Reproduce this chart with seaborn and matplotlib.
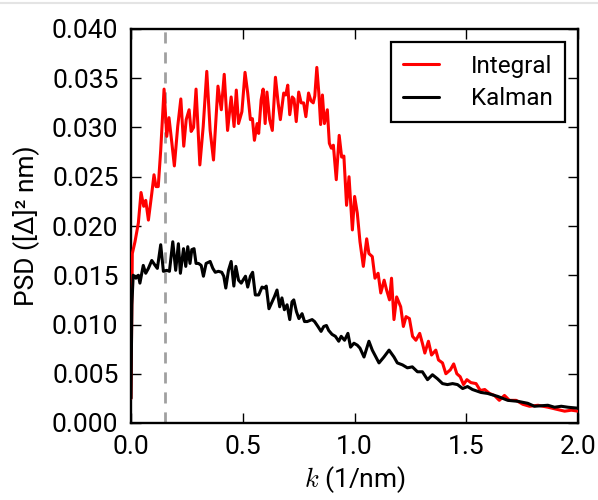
import numpy as np
import pandas as pd
import matplotlib
matplotlib.use("Agg")
import matplotlib.pyplot as plt
from matplotlib.lines import Line2D
import seaborn as sns

# Wavenumber (1/nm) and PSD values for the integral estimate
k_integral = [0.000, 0.006, 0.018, 0.033, 0.045, 0.057, 0.066, 0.078, 0.093, 0.103,
              0.112, 0.122, 0.133, 0.148, 0.160, 0.170, 0.183, 0.194, 0.209, 0.223,
              0.236, 0.247, 0.260, 0.269, 0.280, 0.291, 0.308, 0.323, 0.339, 0.354,
              0.369, 0.389, 0.404, 0.417, 0.432, 0.448, 0.461, 0.471, 0.481, 0.496,
              0.510, 0.522, 0.534, 0.543, 0.552, 0.564, 0.571, 0.582, 0.591, 0.600,
              0.608, 0.620, 0.632, 0.646, 0.658, 0.668, 0.683, 0.692, 0.701, 0.710,
              0.721, 0.729, 0.739, 0.750, 0.761, 0.772, 0.782, 0.794, 0.805, 0.815,
              0.822, 0.831, 0.840, 0.848, 0.856, 0.865, 0.878, 0.887, 0.896, 0.905,
              0.918, 0.931, 0.942, 0.952, 0.964, 0.975, 0.990, 1.000, 1.012, 1.024,
              1.039, 1.054, 1.064, 1.079, 1.091, 1.105, 1.117, 1.132, 1.143, 1.156,
              1.165, 1.176, 1.188, 1.199, 1.206, 1.218, 1.230, 1.245, 1.259, 1.274,
              1.291, 1.303, 1.314, 1.330, 1.344, 1.363, 1.375, 1.393, 1.408, 1.428,
              1.443, 1.457, 1.472, 1.487, 1.502, 1.520, 1.543, 1.562, 1.582, 1.603,
              1.625, 1.647, 1.670, 1.692, 1.722, 1.752, 1.782, 1.820, 1.865, 1.902,
              1.939, 1.969, 2.000]
psd_integral = [0.0025, 0.0172, 0.0184, 0.0203, 0.0234, 0.0220, 0.0226, 0.0206, 0.0233, 0.0252,
                0.0240, 0.0240, 0.0277, 0.0339, 0.0291, 0.0310, 0.0284, 0.0261, 0.0301, 0.0329,
                0.0281, 0.0308, 0.0318, 0.0296, 0.0300, 0.0339, 0.0262, 0.0301, 0.0357, 0.0297,
                0.0267, 0.0342, 0.0318, 0.0354, 0.0297, 0.0331, 0.0301, 0.0338, 0.0304, 0.0316,
                0.0356, 0.0335, 0.0308, 0.0309, 0.0287, 0.0304, 0.0294, 0.0328, 0.0339, 0.0304,
                0.0336, 0.0308, 0.0297, 0.0351, 0.0325, 0.0308, 0.0335, 0.0333, 0.0343, 0.0313,
                0.0331, 0.0329, 0.0306, 0.0336, 0.0325, 0.0325, 0.0311, 0.0335, 0.0327, 0.0325,
                0.0332, 0.0361, 0.0335, 0.0303, 0.0333, 0.0304, 0.0318, 0.0284, 0.0279, 0.0282,
                0.0247, 0.0292, 0.0270, 0.0271, 0.0221, 0.0250, 0.0196, 0.0230, 0.0213, 0.0184,
                0.0159, 0.0187, 0.0172, 0.0169, 0.0147, 0.0152, 0.0132, 0.0145, 0.0135, 0.0125,
                0.0147, 0.0105, 0.0128, 0.0122, 0.0118, 0.0098, 0.0108, 0.0106, 0.0088, 0.0084,
                0.0091, 0.0081, 0.0071, 0.0083, 0.0069, 0.0074, 0.0064, 0.0061, 0.0050, 0.0054,
                0.0060, 0.0050, 0.0047, 0.0039, 0.0044, 0.0041, 0.0040, 0.0033, 0.0034, 0.0030,
                0.0028, 0.0023, 0.0028, 0.0023, 0.0023, 0.0019, 0.0017, 0.0018, 0.0016, 0.0014,
                0.0012, 0.0013, 0.0012]

# Wavenumber (1/nm) and PSD values for the Kalman estimate
k_kalman = [0.000, 0.004, 0.010, 0.022, 0.033, 0.040, 0.055, 0.066, 0.078, 0.093,
            0.108, 0.118, 0.133, 0.145, 0.160, 0.172, 0.187, 0.200, 0.212, 0.221,
            0.235, 0.245, 0.254, 0.264, 0.272, 0.282, 0.291, 0.302, 0.314, 0.324,
            0.336, 0.354, 0.366, 0.377, 0.391, 0.406, 0.415, 0.424, 0.436, 0.448,
            0.460, 0.469, 0.481, 0.493, 0.501, 0.512, 0.522, 0.534, 0.544, 0.556,
            0.571, 0.586, 0.597, 0.605, 0.617, 0.631, 0.641, 0.653, 0.665, 0.675,
            0.686, 0.698, 0.710, 0.720, 0.728, 0.740, 0.751, 0.765, 0.776, 0.788,
            0.810, 0.821, 0.836, 0.850, 0.862, 0.874, 0.884, 0.899, 0.914, 0.929,
            0.940, 0.955, 0.970, 0.982, 0.997, 1.012, 1.024, 1.042, 1.064, 1.079,
            1.109, 1.131, 1.154, 1.176, 1.191, 1.214, 1.236, 1.258, 1.281, 1.303,
            1.326, 1.348, 1.370, 1.393, 1.415, 1.438, 1.460, 1.483, 1.505, 1.527,
            1.565, 1.595, 1.640, 1.685, 1.730, 1.774, 1.804, 1.864, 1.894, 1.924,
            1.954, 2.000]
psd_kalman = [0.0025, 0.0120, 0.0150, 0.0147, 0.0150, 0.0142, 0.0160, 0.0152, 0.0157, 0.0165,
              0.0160, 0.0157, 0.0181, 0.0154, 0.0155, 0.0154, 0.0184, 0.0155, 0.0182, 0.0152,
              0.0177, 0.0159, 0.0179, 0.0162, 0.0176, 0.0177, 0.0162, 0.0162, 0.0160, 0.0149,
              0.0162, 0.0164, 0.0157, 0.0153, 0.0154, 0.0153, 0.0149, 0.0137, 0.0155, 0.0164,
              0.0139, 0.0159, 0.0145, 0.0142, 0.0145, 0.0149, 0.0138, 0.0149, 0.0153, 0.0130,
              0.0130, 0.0138, 0.0137, 0.0139, 0.0116, 0.0123, 0.0128, 0.0135, 0.0118, 0.0127,
              0.0115, 0.0120, 0.0105, 0.0123, 0.0125, 0.0113, 0.0106, 0.0111, 0.0103, 0.0103,
              0.0105, 0.0103, 0.0098, 0.0093, 0.0098, 0.0099, 0.0094, 0.0090, 0.0088, 0.0083,
              0.0088, 0.0084, 0.0091, 0.0077, 0.0081, 0.0079, 0.0076, 0.0067, 0.0083, 0.0074,
              0.0061, 0.0067, 0.0074, 0.0067, 0.0061, 0.0059, 0.0056, 0.0057, 0.0052, 0.0052,
              0.0044, 0.0049, 0.0045, 0.0040, 0.0039, 0.0040, 0.0039, 0.0035, 0.0037, 0.0034,
              0.0031, 0.0030, 0.0027, 0.0023, 0.0022, 0.0020, 0.0017, 0.0018, 0.0016, 0.0017,
              0.0016, 0.0015]

series_names = ["Integral", "Kalman"]
series_colors = ["#ff0000", "#000000"]
cutoff_k = 0.15

x_ticks = [0.0, 0.5, 1.0, 1.5, 2.0]
y_ticks = [0.000, 0.005, 0.010, 0.015, 0.020, 0.025, 0.030, 0.035, 0.040]

df = pd.concat([
    pd.DataFrame({"k": k_integral, "psd": psd_integral, "method": series_names[0]}),
    pd.DataFrame({"k": k_kalman, "psd": psd_kalman, "method": series_names[1]}),
], ignore_index=True)

sns.set_style("ticks")
plt.rcParams["font.family"] = ["Roboto", "DejaVu Sans"]
plt.rcParams["mathtext.fontset"] = "cm"
plt.rcParams["text.color"] = "black"
plt.rcParams["axes.labelcolor"] = "black"

fig = plt.figure(figsize=(5.98, 5.0), dpi=100)
ax = fig.add_axes([0.219, 0.154, 0.748, 0.788])

ax.axvline(cutoff_k, color="#a0a0a0", lw=2.0, ls=(0, (4, 3.2)), zorder=1)

sns.lineplot(data=df, x="k", y="psd", hue="method", palette=series_colors,
             hue_order=series_names, lw=2.2, ax=ax, sort=False,
             estimator=None, zorder=3)

ax.set_xlim(0, 2.0)
ax.set_ylim(0, 0.040)
ax.set_xticks(x_ticks)
ax.set_yticks(y_ticks)
ax.set_xticklabels([f"{v:.1f}" for v in x_ticks])
ax.set_yticklabels([f"{v:.3f}" for v in y_ticks])

for side in ["left", "right", "top", "bottom"]:
    ax.spines[side].set_visible(True)
    ax.spines[side].set_linewidth(1.7)
    ax.spines[side].set_color("black")

ax.tick_params(direction="in", length=7.5, width=1.0, top=True, right=True,
               labelsize=19, colors="black", labelcolor="black")
ax.tick_params(axis="x", pad=9)
ax.tick_params(axis="y", pad=9)

ax.set_xlabel("$k$ (1/nm)", fontsize=19, labelpad=3.5)
ax.set_ylabel("PSD ([Δ]² nm)", fontsize=19, labelpad=9)

leg = ax.legend(loc="upper right", fontsize=17.5, frameon=True, fancybox=False,
                edgecolor="black", framealpha=1.0, handlelength=1.5,
                handletextpad=1.3, borderpad=0.5, labelspacing=0.4,
                borderaxespad=0.55)
leg.get_frame().set_linewidth(1.6)
leg.set_title(None)
for txt in leg.get_texts():
    txt.set_color("black")

# thin page rule along the top edge
fig.add_artist(Line2D([0, 1], [0.994, 0.994], color="#e4e4e4", lw=1.5,
                      transform=fig.transFigure))

fig.savefig("out.png", dpi=100)
